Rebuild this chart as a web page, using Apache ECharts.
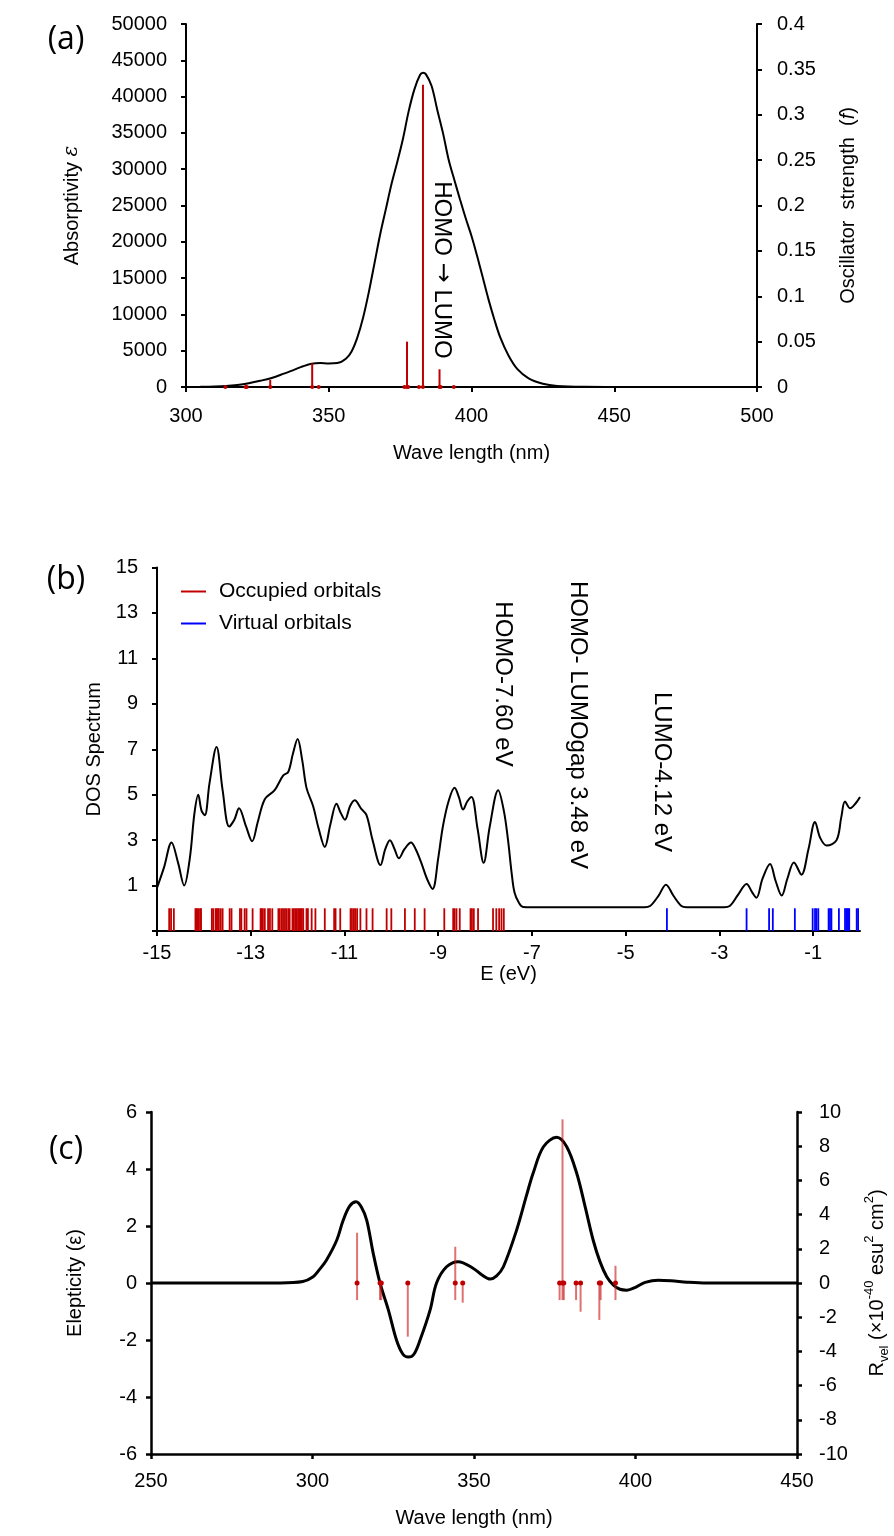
<!DOCTYPE html>
<html><head><meta charset="utf-8">
<script src="https://cdn.jsdelivr.net/npm/echarts@6/dist/echarts.min.js"></script>
<style>html,body{margin:0;padding:0;background:#fff}#c{width:894px;height:1536px}</style>
</head><body><div id="c"></div>
<script>
// ---------- Panel (a): UV-Vis absorption ----------
const absWave  = [300,305,310,314,318,322,326,330,334,338,341,344,347,350,353,356,358,360,362,364,366,368,370,372,374,376,378,380,382,383,384,386,388,390,392,394,396,398,400,402,404,406,408,410,413,416,420,425,430,440,450,500];
const absValue = [0,20,60,130,280,520,850,1250,1800,2400,2850,3200,3300,3250,3300,3900,4900,6800,9500,13000,17000,21000,24500,28000,31000,34200,38000,41000,43000,43300,43100,41500,38200,35000,31300,28500,25800,23200,20800,18000,15000,12000,9300,6900,4300,2500,1200,450,150,20,0,0];
const absTicks = [0,5000,10000,15000,20000,25000,30000,35000,40000,45000,50000];
// excited-state transitions (shared by (a) and (c))
const transNm    = [313.8,320.9,321.3,329.5,344.2,346.5,376.5,377.4,377.8,381.6,383.0,388.8,389.2,393.8];
const oscStrength= [0.001,0.0005,0.0005,0.008,0.026,0.001,0.001,0.050,0.001,0.001,0.333,0.0195,0.001,0.001];
const rotStrength= [2.94,0,0,-3.14,2.12,-1.15,0,9.57,0,0,-1.68,-2.16,0,1.01];

// ---------- Panel (b): DOS ----------
const dosE = [-15,-14.85,-14.69,-14.55,-14.42,-14.3,-14.2,-14.12,-14.05,-13.98,-13.88,-13.73,-13.6,-13.46,-13.35,-13.25,-13.1,-12.97,-12.85,-12.7,-12.49,-12.31,-12.2,-12.1,-12.0,-11.9,-11.81,-11.67,-11.55,-11.42,-11.3,-11.17,-11.08,-10.99,-10.88,-10.78,-10.65,-10.53,-10.4,-10.23,-10.13,-10.03,-9.93,-9.84,-9.72,-9.58,-9.48,-9.36,-9.24,-9.12,-9.0,-8.9,-8.78,-8.65,-8.56,-8.47,-8.38,-8.29,-8.16,-8.03,-7.9,-7.72,-7.6,-7.51,-7.43,-7.37,-7.28,-7.19,-7.0,-4.6,-4.48,-4.3,-4.14,-3.98,-3.81,-3.7,-2.9,-2.78,-2.6,-2.42,-2.3,-2.21,-2.08,-1.92,-1.8,-1.67,-1.55,-1.41,-1.25,-1.1,-0.96,-0.85,-0.71,-0.5,-0.4,-0.32,-0.21,-0.1,0];
const dosValue = [0.9,1.8,2.9,2.0,1.0,2.2,4.2,5.0,4.3,4.1,5.5,7.1,5.2,3.6,3.9,4.4,3.6,2.95,3.8,4.8,5.2,5.84,6.0,6.8,7.45,6.5,5.3,4.5,3.5,2.7,3.7,4.6,4.2,3.9,4.5,4.75,4.4,4.1,3.0,1.9,2.6,3.0,2.6,2.2,2.6,2.9,2.6,2.0,1.3,0.85,2.2,3.6,4.7,5.3,4.9,4.35,4.7,4.9,3.5,2.0,3.6,5.2,4.3,3.0,1.5,0.68,0.25,0.06,0.05,0.05,0.1,0.55,1.04,0.55,0.1,0.05,0.05,0.1,0.6,1.07,0.7,0.46,1.3,1.95,1.2,0.56,1.3,2.02,1.48,2.6,3.8,3.1,2.76,3.0,4.0,4.7,4.4,4.6,4.9];
const occupiedE = [-14.74,-14.70,-14.64,-14.18,-14.16,-14.14,-14.11,-14.08,-14.06,-13.83,-13.80,-13.75,-13.73,-13.70,-13.68,-13.64,-13.60,-13.45,-13.41,-13.23,-13.20,-13.13,-13.09,-12.96,-12.79,-12.77,-12.74,-12.70,-12.63,-12.59,-12.54,-12.41,-12.38,-12.34,-12.31,-12.27,-12.24,-12.20,-12.17,-12.11,-12.08,-12.05,-12.02,-11.99,-11.96,-11.93,-11.91,-11.88,-11.81,-11.78,-11.70,-11.62,-11.42,-11.22,-11.19,-11.09,-10.87,-10.84,-10.80,-10.77,-10.73,-10.66,-10.53,-10.40,-10.10,-10.00,-9.71,-9.50,-9.29,-8.87,-8.68,-8.65,-8.61,-8.54,-8.31,-8.28,-8.24,-8.15,-7.83,-7.76,-7.70,-7.65,-7.60];
const virtualE = [-4.12,-2.42,-1.94,-1.86,-1.39,-1.01,-0.96,-0.93,-0.89,-0.67,-0.64,-0.61,-0.45,-0.32,-0.29,-0.27,-0.25,-0.23,-0.07,-0.04];
const dosXTicks = [-15,-13,-11,-9,-7,-5,-3,-1];
const dosYTicks = [-1,1,3,5,7,9,11,13,15];

// ---------- Panel (c): ECD ----------
const cdWave  = [250,290,297,300.2,302,304.3,307.5,309.5,311.5,313.5,315.2,316.8,318.8,320.9,323.5,326,328,329.7,331.4,333.3,336.4,338.4,341.5,345.1,349.8,352.5,355,357,359.1,363.2,366.3,368.3,371.5,375.6,378.7,381.8,384.4,386.9,389,391.1,393.2,395.2,397.3,400,403,407,411,416,422,450];
const cdValue = [0,0,0.05,0.22,0.45,0.8,1.5,2.2,2.7,2.85,2.65,2.2,1.04,0,-0.95,-2.0,-2.5,-2.6,-2.5,-2.0,-0.95,0,0.57,0.75,0.51,0.28,0.14,0.25,0.57,1.86,3.09,3.85,4.78,5.11,4.78,3.85,2.68,1.5,0.75,0.22,-0.08,-0.22,-0.25,-0.15,0.02,0.1,0.08,0.03,0,0];

const FONT = 'Liberation Sans, Arial, sans-serif';
const BLACK = '#000';
const RED = '#c00000';
const BLUE = '#0000ff';

function valAxis(extra, lw, margin) {
  const base = {
    type: 'value',
    splitLine: { show: false },
    axisLine: { show: true, onZero: false, lineStyle: { color: BLACK, width: lw } },
    axisTick: { show: true, length: 5, lineStyle: { color: BLACK, width: lw } },
    axisLabel: { color: BLACK, fontSize: 20, fontFamily: FONT, margin: margin, formatter: v => String(v) },
    nameTextStyle: { color: BLACK, fontSize: 20, fontFamily: FONT },
    nameLocation: 'middle'
  };
  const out = Object.assign(base, extra);
  if (extra.axisTick) out.axisTick = Object.assign({ show: true, length: 5, lineStyle: { color: BLACK, width: lw } }, extra.axisTick);
  if (extra.axisLabel) out.axisLabel = Object.assign({ color: BLACK, fontSize: 20, fontFamily: FONT, margin: margin, formatter: v => String(v) }, extra.axisLabel);
  return out;
}

const chart = echarts.init(document.getElementById('c'), null, { renderer: 'canvas' });

const textEl = (x, y, text, font, rot, rich) => ({
  type: 'text', x: x, y: y, rotation: rot || 0,
  style: { text: text, font: font, fill: BLACK, align: 'center', verticalAlign: 'middle', textAlign: 'center', textVerticalAlign: 'middle', rich: rich }
});

const option = {
  animation: false,
  backgroundColor: '#fff',
  textStyle: { fontFamily: FONT },
  grid: [
    { left: 186, top: 24, width: 571, height: 363, outerBoundsMode: 'none' },
    { left: 157, top: 567.5, width: 703, height: 363.5, outerBoundsMode: 'none' },
    { left: 151, top: 1112, width: 646, height: 342, outerBoundsMode: 'none' }
  ],
  legend: {
    orient: 'vertical', left: 176, top: 576, itemWidth: 25, itemHeight: 2, itemGap: 11,
    icon: 'rect',
    textStyle: { fontSize: 21, fontFamily: FONT, color: BLACK, padding: [0, 0, 0, 8] },
    data: [
      { name: 'Occupied orbitals', itemStyle: { color: RED } },
      { name: 'Virtual orbitals', itemStyle: { color: BLUE } }
    ]
  },
  xAxis: [
    valAxis({ gridIndex: 0, min: 300, max: 500, interval: 50, name: 'Wave length (nm)', nameGap: 56 }, 2, 19),
    valAxis({ gridIndex: 1, min: -15, max: 0, name: 'E (eV)', nameGap: 33,
      axisTick: { customValues: dosXTicks },
      axisLabel: { customValues: dosXTicks } }, 2, 12),
    valAxis({ gridIndex: 2, min: 250, max: 450, interval: 50, name: 'Wave length (nm)', nameGap: 54 }, 2.5, 17)
  ],
  yAxis: [
    valAxis({ gridIndex: 0, min: 0, max: 50000, position: 'left', nameRotate: 90,
      axisTick: { customValues: absTicks }, axisLabel: { customValues: absTicks },
      name: '{n|Absorptivity }{it|ε}', nameGap: 104,
      nameTextStyle: { color: BLACK, fontSize: 20, fontFamily: FONT,
        rich: { n: { fontSize: 20, fontFamily: FONT }, it: { fontSize: 20, fontStyle: 'italic', fontFamily: 'DejaVu Serif' } } } }, 2, 19),
    valAxis({ gridIndex: 0, min: 0, max: 0.4, interval: 0.05, position: 'right', nameRotate: 90,
      name: '{n|Oscillator  strength  (}{it|f}{n|)}', nameGap: 81,
      nameTextStyle: { color: BLACK, fontSize: 20, fontFamily: FONT,
        rich: { n: { fontSize: 20, fontFamily: FONT }, it: { fontSize: 20, fontStyle: 'italic', fontFamily: FONT } } } }, 2, 20),
    valAxis({ gridIndex: 1, min: -1, max: 15, position: 'left', nameRotate: 90, name: 'DOS Spectrum', nameGap: 48,
      axisTick: { customValues: dosYTicks },
      axisLabel: { customValues: dosYTicks.slice(1) } }, 2, 19),
    valAxis({ gridIndex: 2, min: -6, max: 6, interval: 2, position: 'left', nameRotate: 90, name: 'Elepticity (ε)', nameGap: 66 }, 2.5, 14),
    valAxis({ gridIndex: 2, min: -10, max: 10, interval: 2, position: 'right', nameRotate: 90,
      name: '{n|R}{sub|vel}{n| (×10}{sup|-40}{n| esu}{sup|2}{n| cm}{sup|2}{n|)}', nameGap: 66,
      nameTextStyle: { color: BLACK, fontSize: 20, fontFamily: FONT,
        rich: {
          n: { fontSize: 20, fontFamily: FONT, lineHeight: 28 },
          sub: { fontSize: 13, fontFamily: FONT, lineHeight: 13, verticalAlign: 'bottom' },
          sup: { fontSize: 13, fontFamily: FONT, lineHeight: 13, verticalAlign: 'top' }
        } } }, 2.5, 22)
  ],
  graphic: [
    textEl(66, 40, '(a)', '32px "Open Sans", sans-serif'),
    textEl(66, 580, '(b)', '32px "Open Sans", sans-serif'),
    textEl(66, 1150, '(c)', '32px "Open Sans", sans-serif'),
    textEl(442, 270, '{n|HOMO }{a|→}{n| LUMO}', '24px ' + FONT, -Math.PI / 2,
      { n: { fontSize: 24, fontFamily: FONT }, a: { fontSize: 24, fontFamily: 'DejaVu Sans' } }),
    textEl(503, 684, 'HOMO-7.60 eV', '24px ' + FONT, -Math.PI / 2),
    textEl(578, 725, 'HOMO- LUMOgap 3.48 eV', '24px ' + FONT, -Math.PI / 2),
    textEl(662, 772, 'LUMO-4.12 eV', '24px ' + FONT, -Math.PI / 2)
  ],
  series: [
    { name: 'Absorptivity', type: 'line', xAxisIndex: 0, yAxisIndex: 0, smooth: 0.35, showSymbol: false,
      lineStyle: { color: BLACK, width: 2 }, data: absWave.map((w, i) => [w, absValue[i]]), z: 2 },
    { name: 'Oscillator strength', type: 'custom', xAxisIndex: 0, yAxisIndex: 1, z: 3,
      data: transNm.map((w, i) => [w, oscStrength[i]]),
      renderItem: (params, api) => {
        const p0 = api.coord([api.value(0), 0]);
        const p1 = api.coord([api.value(0), api.value(1)]);
        return { type: 'group', children: [
          { type: 'line', shape: { x1: p0[0], y1: p0[1], x2: p1[0], y2: p1[1] }, style: { stroke: RED, lineWidth: 2 } },
          { type: 'circle', shape: { cx: p0[0], cy: p0[1], r: 2 }, style: { fill: RED } }
        ] };
      } },
    { name: 'DOS', type: 'line', xAxisIndex: 1, yAxisIndex: 2, smooth: 0.35, showSymbol: false,
      lineStyle: { color: BLACK, width: 2 }, data: dosE.map((e, i) => [e, dosValue[i]]), z: 2 },
    { name: 'Occupied orbitals', type: 'custom', xAxisIndex: 1, yAxisIndex: 2, itemStyle: { color: RED },
      data: occupiedE.map(e => [e]),
      renderItem: (params, api) => {
        const a = api.coord([api.value(0), -1]);
        const b = api.coord([api.value(0), 0]);
        return { type: 'line', shape: { x1: a[0], y1: a[1], x2: b[0], y2: b[1] }, style: { stroke: RED, lineWidth: 1.8 } };
      } },
    { name: 'Virtual orbitals', type: 'custom', xAxisIndex: 1, yAxisIndex: 2, itemStyle: { color: BLUE },
      data: virtualE.map(e => [e]),
      renderItem: (params, api) => {
        const a = api.coord([api.value(0), -1]);
        const b = api.coord([api.value(0), 0]);
        return { type: 'line', shape: { x1: a[0], y1: a[1], x2: b[0], y2: b[1] }, style: { stroke: BLUE, lineWidth: 1.8 } };
      } },
    { name: 'ECD', type: 'line', xAxisIndex: 2, yAxisIndex: 3, smooth: 0.35, showSymbol: false,
      lineStyle: { color: BLACK, width: 3 }, data: cdWave.map((w, i) => [w, cdValue[i]]), z: 2 },
    { name: 'Rvel', type: 'custom', xAxisIndex: 2, yAxisIndex: 4, z: 3,
      data: transNm.map((w, i) => [w, rotStrength[i]]),
      renderItem: (params, api) => {
        const r = api.value(1);
        const a = api.coord([api.value(0), Math.min(r, -1)]);
        const b = api.coord([api.value(0), Math.max(r, 0)]);
        const z = api.coord([api.value(0), 0]);
        return { type: 'group', children: [
          { type: 'line', shape: { x1: a[0], y1: a[1], x2: b[0], y2: b[1] }, style: { stroke: 'rgba(200,20,20,0.6)', lineWidth: 2 } },
          { type: 'circle', shape: { cx: z[0], cy: z[1], r: 2.5 }, style: { fill: RED } }
        ] };
      } }
  ]
};
chart.setOption(option);
</script></body></html>
